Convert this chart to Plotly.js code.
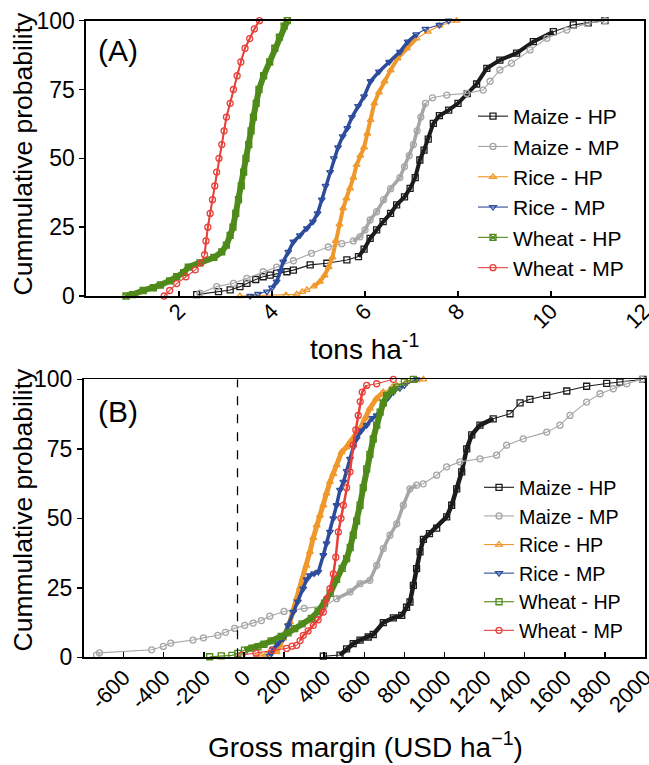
<!DOCTYPE html>
<html>
<head>
<meta charset="utf-8">
<script src="https://cdn.plot.ly/plotly-3.0.1.min.js"></script>
<style>
html,body{margin:0;padding:0;background:#fff;}
#chart{width:649px;height:765px;}
</style>
</head>
<body>
<div id="chart"></div>
<script>
// ---------- Series names ----------
const seriesNames = ["Maize - HP", "Maize - MP", "Rice - HP", "Rice - MP", "Wheat - HP", "Wheat - MP"];

// ---------- Panel A : yield (tons ha-1) vs cumulative probability (%) ----------
const maizeHP_A_x = [2.38, 2.85, 3.10, 3.31, 3.46, 3.65, 3.81, 3.96, 4.10, 4.32, 4.46, 4.82, 5.18, 5.61, 5.86, 5.98, 6.11, 6.25, 6.39, 6.55, 6.68, 6.85, 6.97, 7.08, 7.18, 7.27, 7.36, 7.47, 7.60, 7.80, 8.00, 8.20, 8.40, 8.62, 8.90, 9.26, 9.62, 10.05, 10.48, 10.80, 11.16];
const maizeHP_A_p = [0.5, 1.6, 2.2, 3.4, 4.6, 6.0, 7.0, 7.6, 8.2, 8.8, 9.4, 11.3, 11.9, 13.1, 14.3, 17.0, 20.9, 24.0, 27.0, 30.0, 33.1, 36.0, 39.1, 43.0, 49.4, 53.0, 57.0, 62.7, 65.5, 67.5, 70.0, 73.5, 77.0, 82.7, 85.7, 88.2, 92.4, 96.0, 98.5, 99.2, 100];

const maizeMP_A_x = [2.45, 2.81, 3.17, 3.46, 3.81, 4.10, 4.46, 4.85, 5.21, 5.50, 5.75, 5.89, 6.00, 6.11, 6.25, 6.40, 6.55, 6.75, 6.85, 6.95, 7.04, 7.12, 7.20, 7.30, 7.45, 7.76, 8.19, 8.54, 8.69, 8.90, 9.15, 9.55, 9.91, 10.34, 10.77, 11.16];
const maizeMP_A_p = [1.0, 3.4, 4.6, 6.4, 8.8, 10.5, 12.8, 15.5, 17.8, 19.0, 20.0, 21.5, 24.0, 27.6, 30.6, 35.0, 39.0, 43.0, 47.0, 51.0, 55.0, 60.0, 65.0, 70.0, 72.0, 73.0, 73.6, 74.8, 78.0, 82.1, 84.5, 89.4, 93.6, 96.6, 99.0, 100];

const riceHP_A_x = [3.31, 4.30, 4.53, 4.65, 4.75, 4.90, 5.03, 5.13, 5.22, 5.30, 5.37, 5.45, 5.53, 5.60, 5.68, 5.75, 5.82, 5.90, 5.98, 6.05, 6.12, 6.20, 6.30, 6.42, 6.55, 6.70, 6.90, 7.11, 7.35, 7.60, 7.97];
const riceHP_A_p = [0, 0.3, 0.6, 1.5, 2.2, 3.5, 5.2, 7.5, 10.5, 14.0, 20.0, 26.0, 31.9, 35.5, 39.1, 43.0, 47.6, 51.0, 54.0, 59.0, 64.0, 70.0, 74.0, 78.0, 82.0, 86.3, 90.0, 93.6, 96.0, 98.2, 100];

const riceMP_A_x = [3.53, 3.70, 3.89, 4.00, 4.10, 4.18, 4.24, 4.35, 4.46, 4.60, 4.75, 4.88, 4.98, 5.07, 5.15, 5.25, 5.33, 5.42, 5.52, 5.62, 5.72, 5.85, 5.98, 6.12, 6.30, 6.52, 6.75, 6.92, 7.10, 7.30, 7.60, 7.80];
const riceMP_A_p = [0, 0.8, 1.6, 3.0, 5.2, 9.0, 12.5, 16.0, 19.7, 22.0, 24.6, 27.0, 30.0, 35.0, 40.0, 45.0, 50.0, 54.0, 58.0, 61.0, 65.0, 69.0, 72.5, 78.0, 81.5, 85.0, 88.7, 92.4, 95.0, 97.0, 98.5, 100];

const wheatHP_A_x = [0.86, 1.00, 1.23, 1.45, 1.60, 1.80, 1.95, 2.10, 2.20, 2.45, 2.75, 2.92, 3.02, 3.10, 3.16, 3.22, 3.28, 3.34, 3.39, 3.44, 3.50, 3.55, 3.60, 3.66, 3.72, 3.82, 3.95, 4.06, 4.16, 4.26, 4.33];
const wheatHP_A_p = [0, 0.5, 2.0, 3.0, 4.0, 5.5, 7.0, 8.5, 10.5, 12.0, 14.0, 16.0, 18.5, 22.0, 25.0, 30.0, 35.0, 40.0, 45.0, 50.0, 55.0, 60.0, 65.0, 70.0, 75.0, 80.0, 85.0, 90.0, 94.0, 98.0, 100];

const wheatMP_A_x = [1.68, 1.80, 1.95, 2.15, 2.35, 2.47, 2.55, 2.58, 2.62, 2.67, 2.72, 2.77, 2.81, 2.86, 2.92, 2.97, 3.02, 3.10, 3.17, 3.25, 3.33, 3.42, 3.52, 3.62, 3.73];
const wheatMP_A_p = [0, 2.0, 4.5, 7.0, 9.5, 12.0, 15.0, 20.0, 25.0, 30.0, 35.0, 40.0, 45.0, 50.0, 55.0, 60.0, 65.0, 70.0, 75.0, 80.0, 85.0, 90.0, 93.5, 97.0, 100];

// ---------- Panel B : gross margin (USD ha-1) vs cumulative probability (%) ----------
const maizeHP_B_x = [396, 479, 512, 545, 579, 620, 645, 695, 745, 787, 811, 828, 845, 861, 878, 895, 925, 961, 1011, 1036, 1061, 1086, 1111, 1136, 1177, 1243, 1327, 1377, 1426, 1510, 1610, 1709, 1809, 1875, 1990];
const maizeHP_B_p = [0.4, 0.8, 3.0, 4.9, 6.2, 7.3, 8.2, 12.5, 14.2, 15.1, 18.0, 19.9, 25.9, 31.9, 37.9, 42.4, 44.5, 46.5, 50.5, 54.7, 60.6, 66.7, 75.0, 80.0, 83.5, 85.8, 87.6, 91.5, 92.8, 94.2, 95.8, 97.5, 98.5, 99.0, 100];

const maizeMP_B_x = [-735, -720, -460, -402, -365, -254, -202, -130, -92, -46, 4, 46, 87, 129, 200, 300, 400, 462, 529, 579, 628, 662, 695, 728, 762, 795, 828, 861, 894, 961, 1011, 1077, 1177, 1260, 1310, 1393, 1510, 1576, 1626, 1709, 1776, 1842, 1909, 1984];
const maizeMP_B_p = [0.8, 1.6, 2.7, 3.9, 5.1, 6.2, 7.0, 7.9, 9.0, 10.4, 11.5, 12.3, 13.2, 14.8, 16.5, 17.6, 18.4, 21.1, 23.5, 26.5, 27.7, 33.1, 39.1, 43.9, 48.0, 54.7, 60.6, 61.9, 62.4, 65.5, 68.5, 70.3, 71.4, 72.7, 76.3, 78.6, 81.0, 83.5, 87.0, 91.8, 94.8, 96.6, 98.4, 100];

const riceHP_B_x = [61, 86, 111, 163, 180, 196, 212, 229, 246, 263, 280, 296, 312, 329, 346, 363, 379, 396, 412, 429, 446, 462, 487, 510, 529, 555, 579, 605, 628, 660, 695, 740, 762, 810, 861, 895];
const riceHP_B_p = [0.2, 0.6, 1.0, 1.9, 4.3, 6.7, 9.5, 12.7, 17.0, 21.1, 25.0, 28.3, 33.0, 37.9, 43.0, 47.5, 51.0, 54.7, 59.0, 63.1, 66.0, 69.1, 73.8, 75.5, 77.5, 80.0, 82.2, 86.0, 89.5, 93.0, 95.4, 97.2, 97.8, 99.0, 99.7, 100];

const riceMP_B_x = [128, 136, 146, 170, 196, 220, 246, 269, 296, 313, 329, 350, 371, 396, 412, 429, 446, 462, 479, 496, 512, 529, 545, 562, 585, 612, 640, 662, 695, 720, 745, 778, 800, 861];
const riceMP_B_p = [0.5, 1.5, 3.1, 5.0, 6.7, 11.5, 16.3, 20.0, 24.7, 28.0, 29.5, 30.2, 30.7, 36.7, 41.0, 45.1, 50.0, 54.7, 60.2, 63.1, 67.0, 71.4, 75.5, 78.6, 81.5, 83.5, 86.0, 87.0, 90.6, 93.5, 95.4, 96.8, 97.8, 100];

const wheatHP_B_x = [-171, -113, -60, -30, 3, 40, 70, 100, 136, 186, 220, 253, 290, 336, 370, 402, 430, 462, 490, 512, 530, 545, 562, 579, 595, 612, 628, 645, 662, 679, 695, 712, 740, 762, 800, 845];
const wheatHP_B_p = [0.2, 0.5, 0.7, 1.4, 2.6, 3.3, 3.8, 4.7, 5.9, 7.5, 8.8, 10.3, 12.0, 14.0, 16.5, 19.5, 23.0, 28.0, 32.0, 35.5, 39.5, 43.9, 49.0, 54.7, 61.0, 67.8, 73.0, 78.6, 83.5, 88.2, 91.5, 94.2, 96.0, 97.2, 99.0, 100];

const wheatMP_B_x = [-10, 60, 140, 213, 240, 263, 280, 296, 320, 346, 370, 396, 412, 429, 446, 458, 471, 484, 496, 512, 529, 545, 558, 570, 580, 590, 612, 662, 745];
const wheatMP_B_p = [0.8, 1.5, 2.5, 3.2, 4.0, 4.3, 6.0, 7.9, 9.5, 11.5, 13.5, 16.3, 21.0, 24.7, 30.0, 36.0, 45.1, 50.0, 54.7, 61.0, 66.7, 76.3, 81.8, 87.0, 92.0, 95.4, 97.8, 98.4, 100];

// ---------- Axis ticks ----------
const tickA_x = [2, 4, 6, 8, 10, 12];
const tickB_x = [-600, -400, -200, 0, 200, 400, 600, 800, 1000, 1200, 1400, 1600, 1800, 2000];
const tickY = [0, 25, 50, 75, 100];
const zeroMarkerB = -32; // visual position of the dashed reference line

// ---------- Styles (colour, symbols, dense-band look) ----------
const FONT = "'Liberation Sans', Arial, Helvetica, sans-serif";
const styles = [
  {color: '#1c1c1c', symbolA: 'square-open', symbolB: 'square-open', bandA: [5.8, 10.1], wA: 4, bandB: [470, 1260], wB: 4.5},
  {color: '#a6a6a6', symbolA: 'circle-open', symbolB: 'circle-open', bandA: [5.6, 7.35], wA: 3.5, bandB: [455, 870], wB: 3.5},
  {color: '#ef982c', symbolA: 'triangle-up-open', symbolB: 'triangle-up-open', bandA: [4.85, 7.2], wA: 4, bandB: [160, 700], wB: 5},
  {color: '#2d4c9c', symbolA: 'triangle-down-open', symbolB: 'triangle-down-open', bandA: [4.0, 7.15], wA: 3.5, bandB: [130, 760], wB: 3.5},
  {color: '#4f8a1a', symbolA: 'square-x-open', symbolB: 'square-open', bandA: [0.86, 4.33], wA: 6, bandB: [0, 770], wB: 6},
  {color: '#e8403a', symbolA: 'circle-open', symbolB: 'circle-open', bandA: [2.5, 3.73], wA: 2, bandB: [280, 620], wB: 2.5}
];

const dataA = [[maizeHP_A_x, maizeHP_A_p], [maizeMP_A_x, maizeMP_A_p], [riceHP_A_x, riceHP_A_p], [riceMP_A_x, riceMP_A_p], [wheatHP_A_x, wheatHP_A_p], [wheatMP_A_x, wheatMP_A_p]];
const dataB = [[maizeHP_B_x, maizeHP_B_p], [maizeMP_B_x, maizeMP_B_p], [riceHP_B_x, riceHP_B_p], [riceMP_B_x, riceMP_B_p], [wheatHP_B_x, wheatHP_B_p], [wheatMP_B_x, wheatMP_B_p]];

const traces = [];
function addSeries(d, i, panel) {
  const s = styles[i];
  const xa = panel === 'A' ? 'x' : 'x2', ya = panel === 'A' ? 'y' : 'y2';
  const band = panel === 'A' ? s.bandA : s.bandB;
  const bw = panel === 'A' ? s.wA : s.wB;
  // dense section of the curve: heavy stroke where markers overlap in the reference
  const bx = [], by = [];
  d[0].forEach((v, k) => { if (v >= band[0] && v <= band[1]) { bx.push(v); by.push(d[1][k]); } });
  traces.push({
    type: 'scatter', mode: 'lines', x: bx, y: by, xaxis: xa, yaxis: ya,
    line: {color: s.color, width: bw}, showlegend: false, hoverinfo: 'skip', cliponaxis: false
  });
  traces.push({
    type: 'scatter', mode: 'lines+markers',
    x: d[0], y: d[1], name: seriesNames[i], xaxis: xa, yaxis: ya,
    legend: panel === 'A' ? 'legend' : 'legend2',
    line: {color: s.color, width: 1.1},
    marker: {symbol: panel === 'A' ? s.symbolA : s.symbolB, size: 6, color: s.color, line: {color: s.color, width: 1.3}},
    cliponaxis: false
  });
}
dataA.forEach((d, i) => addSeries(d, i, 'A'));
dataB.forEach((d, i) => addSeries(d, i, 'B'));

const W = 649, H = 765;
const px = v => v / W, py = v => 1 - v / H;

const axisCommon = {
  showline: true, linecolor: '#000', linewidth: 1.6, mirror: true,
  showgrid: false, zeroline: false,
  tickcolor: '#000', tickwidth: 1.5, ticklen: 5,
  tickfont: {family: FONT, size: 23, color: '#000'}
};

const layout = {
  width: W, height: H,
  margin: {l: 0, r: 0, t: 0, b: 0},
  paper_bgcolor: '#fff', plot_bgcolor: '#fff',
  font: {family: FONT, color: '#000'},
  showlegend: true,
  xaxis: Object.assign({}, axisCommon, {
    domain: [px(86), px(644)], range: [0, 12], tickvals: tickA_x, ticktext: tickA_x.map(String),
    ticks: 'inside', tickangle: -45, anchor: 'y', ticklabeloverflow: 'allow',
    tickfont: {family: FONT, size: 22, color: '#000'}
  }),
  yaxis: Object.assign({}, axisCommon, {
    domain: [py(296), py(20.7)], range: [0, 100], tickvals: tickY, ticks: 'outside', anchor: 'x'
  }),
  xaxis2: Object.assign({}, axisCommon, {
    domain: [px(83.5), px(645)], range: [-800, 2000], tickvals: tickB_x, ticktext: tickB_x.map(String),
    ticks: 'inside', tickangle: -45, anchor: 'y2', ticklabeloverflow: 'allow',
    tickfont: {family: FONT, size: 22, color: '#000'}
  }),
  yaxis2: Object.assign({}, axisCommon, {
    domain: [py(657.3), py(379.3)], range: [0, 100], tickvals: tickY, ticks: 'outside', anchor: 'x2'
  }),
  legend: {
    x: px(473), y: py(96), xanchor: 'left', yanchor: 'top',
    bgcolor: 'rgba(0,0,0,0)', borderwidth: 0,
    font: {family: FONT, size: 21, color: '#000'}, tracegroupgap: 0
  },
  legend2: {
    x: px(479), y: py(468), xanchor: 'left', yanchor: 'top',
    bgcolor: 'rgba(0,0,0,0)', borderwidth: 0,
    font: {family: FONT, size: 19.7, color: '#000'}, tracegroupgap: 0
  },
  shapes: [{
    type: 'line', xref: 'x2', yref: 'y2', x0: zeroMarkerB, x1: zeroMarkerB, y0: 0, y1: 100,
    line: {color: '#000', width: 1.3, dash: 'dash'}
  }],
  annotations: [
    {text: '(A)', xref: 'paper', yref: 'paper', x: px(96), y: py(51), xanchor: 'left', yanchor: 'middle', showarrow: false, font: {family: FONT, size: 30, color: '#000'}},
    {text: '(B)', xref: 'paper', yref: 'paper', x: px(96), y: py(411), xanchor: 'left', yanchor: 'middle', showarrow: false, font: {family: FONT, size: 30, color: '#000'}},
    {text: 'Cummulative probability', xref: 'paper', yref: 'paper', x: px(22.5), y: py(154), textangle: -90, xanchor: 'center', yanchor: 'middle', showarrow: false, font: {family: FONT, size: 26.5, color: '#000'}},
    {text: 'Cummulative probability', xref: 'paper', yref: 'paper', x: px(22.5), y: py(510), textangle: -90, xanchor: 'center', yanchor: 'middle', showarrow: false, font: {family: FONT, size: 26.5, color: '#000'}},
    {text: 'tons ha<sup>-1</sup>', xref: 'paper', yref: 'paper', x: px(364), y: py(347), xanchor: 'center', yanchor: 'middle', showarrow: false, font: {family: FONT, size: 28, color: '#000'}},
    {text: 'Gross margin (USD ha<sup>\u22121</sup>)', xref: 'paper', yref: 'paper', x: px(365), y: py(745), xanchor: 'center', yanchor: 'middle', showarrow: false, font: {family: FONT, size: 28, color: '#000'}}
  ]
};

Plotly.newPlot('chart', traces, layout, {displayModeBar: false, staticPlot: true}).then(gd => {
  // rotated tick labels sit a little closer to the axis in the reference
  const shift = {xtick: -8, x2tick: -3};
  Object.keys(shift).forEach(cls => {
    gd.querySelectorAll('g.' + cls + ' text').forEach(t => {
      const tr = t.getAttribute('transform') || '';
      t.setAttribute('transform', 'translate(0,' + shift[cls] + ') ' + tr);
    });
  });
});
</script>
</body>
</html>
